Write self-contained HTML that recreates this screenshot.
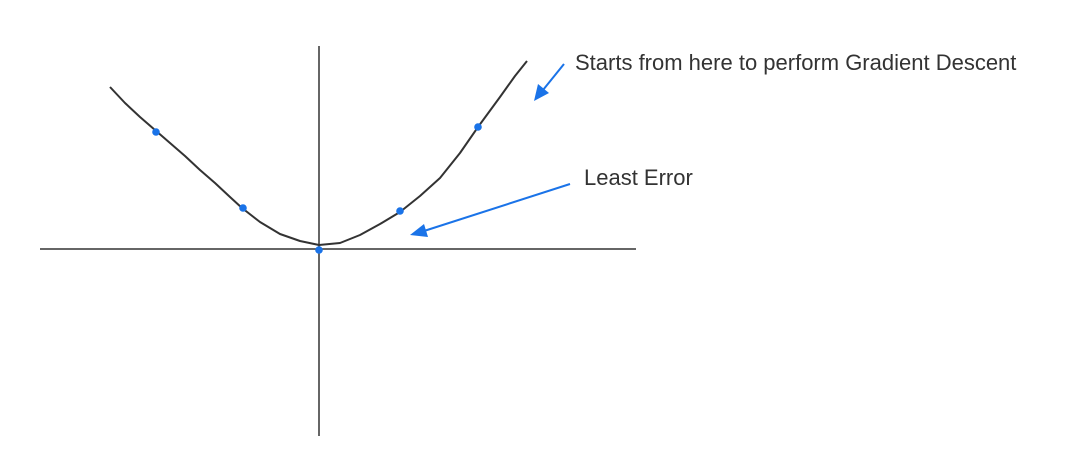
<!DOCTYPE html>
<html><head><meta charset="utf-8"><style>
html,body{margin:0;padding:0;background:#fff;}
svg{display:block;}
text{font-family:"Liberation Sans",sans-serif;fill:#333;font-size:22px;}
</style></head><body>
<svg id="chart" width="1071" height="476" viewBox="0 0 1071 476">
<line x1="40" y1="249" x2="636" y2="249" stroke="#333" stroke-width="1.5"/>
<line x1="319" y1="46" x2="319" y2="436" stroke="#333" stroke-width="1.5"/>
<g id="curve-layer"></g>
<g id="points-layer"></g>
<line x1="564" y1="64" x2="543" y2="90" stroke="#1a73e8" stroke-width="2"/>
<polygon points="534,101 538,84 549,93" fill="#1a73e8"/>
<line x1="570" y1="184" x2="424" y2="231" stroke="#1a73e8" stroke-width="2"/>
<polygon points="410,235 424,224 428,237" fill="#1a73e8"/>
<text x="575" y="70">Starts from here to perform Gradient Descent</text>
<text x="584" y="185">Least Error</text>
</svg>
<script>
const curveX=[-20.9,-19.4,-17.9,-16.4,-14.9,-13.4,-11.9,-10.4,-8.9,-7.7,-5.9,-3.9,-1.9,0,2.1,4.1,6.1,8.1,10.1,12.1,14.1,15.9,18.1,19.6,20.8];
const curveY=[16.2,14.6,13.2,11.9,10.6,9.3,7.9,6.6,5.2,4.1,2.7,1.5,0.8,0.4,0.6,1.4,2.5,3.7,5.3,7.1,9.6,12.2,15.2,17.3,18.8];
const pointX=[-16.3,-7.6,0,8.1,15.9];
const pointY=[11.7,4.1,-0.1,3.8,12.2];
function sx(v){return 319+v*10;}
function sy(v){return 249-v*10;}
const ns="http://www.w3.org/2000/svg";
let d="";
for(let i=0;i<curveX.length;i++){d+=(i?"L":"M")+sx(curveX[i]).toFixed(1)+","+sy(curveY[i]).toFixed(1);}
const p=document.createElementNS(ns,"path");
p.setAttribute("d",d);p.setAttribute("fill","none");p.setAttribute("stroke","#333");p.setAttribute("stroke-width","2");p.setAttribute("stroke-linejoin","round");


document.getElementById("curve-layer").appendChild(p);
for(let i=0;i<pointX.length;i++){
const c=document.createElementNS(ns,"circle");
c.setAttribute("cx",sx(pointX[i]));c.setAttribute("cy",sy(pointY[i]));c.setAttribute("r","3.8");c.setAttribute("fill","#1a73e8");


document.getElementById("points-layer").appendChild(c);
}
</script>
</body></html>
